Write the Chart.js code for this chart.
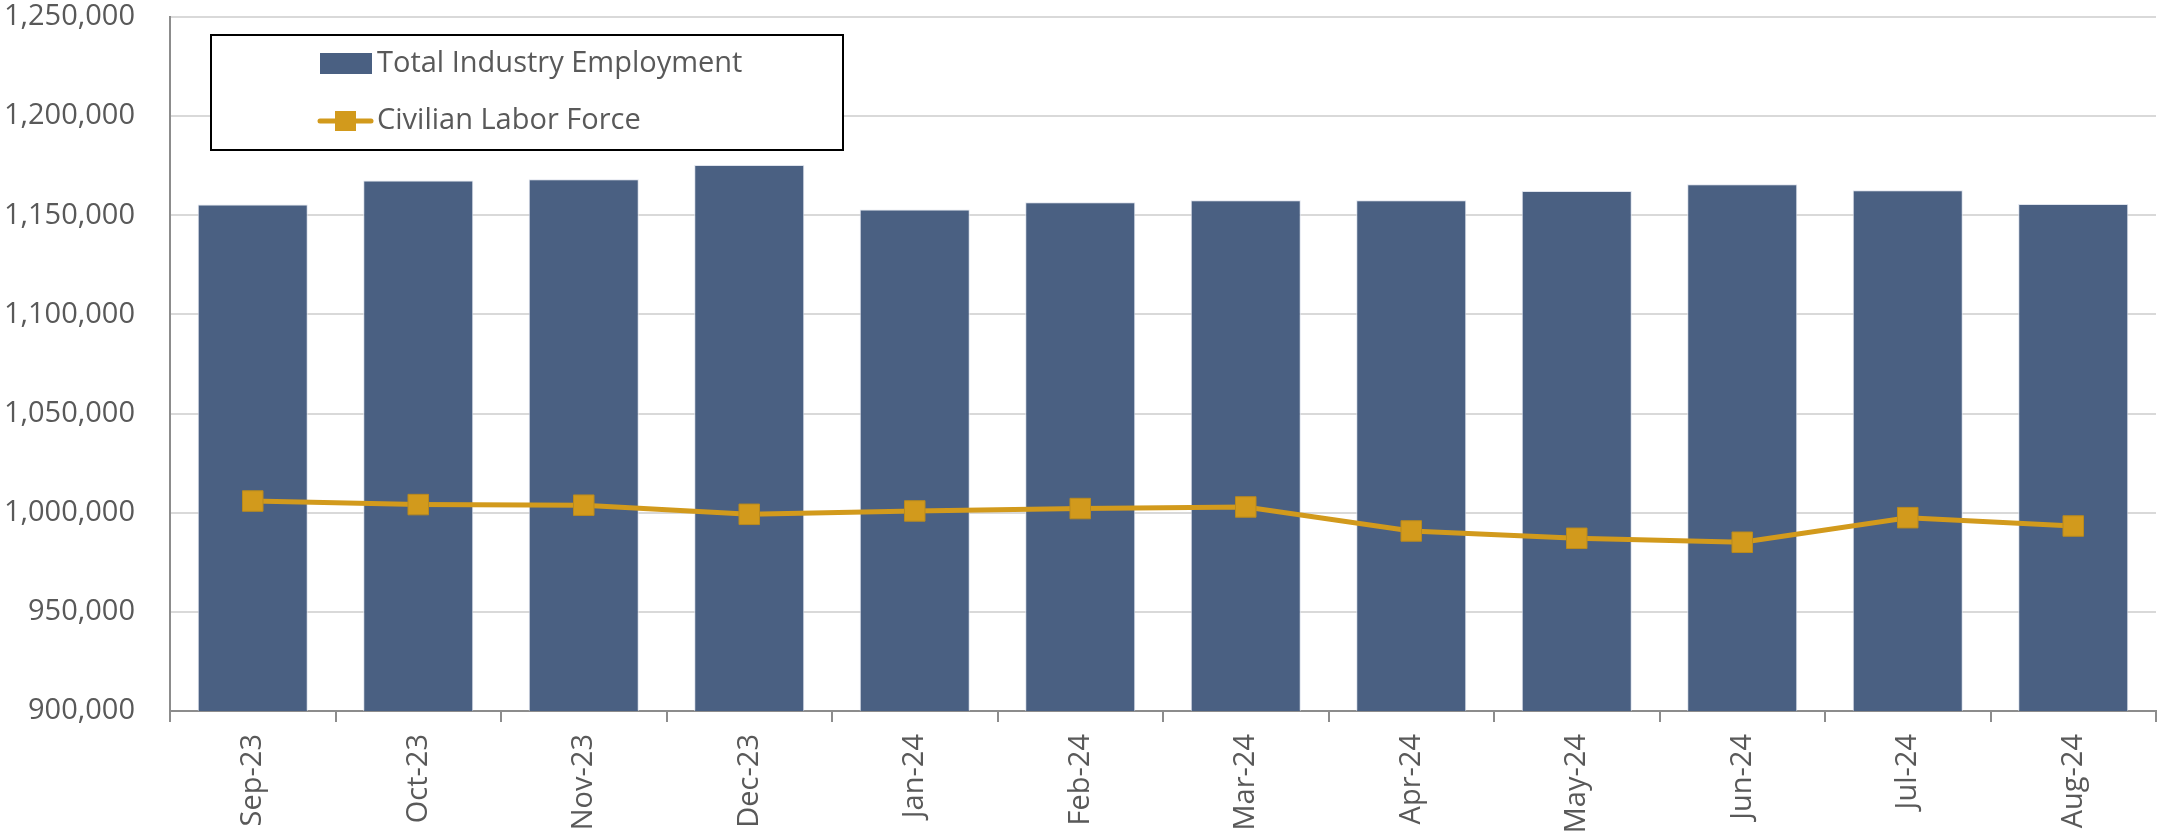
<!DOCTYPE html>
<html>
<head>
<meta charset="utf-8">
<script src="https://cdn.jsdelivr.net/npm/chart.js@4/dist/chart.umd.min.js"></script>
<style>
  html, body { margin: 0; padding: 0; background: #fff; }
  #wrap { width: 2157px; height: 840px; }
</style>
</head>
<body>
<div id="wrap"><canvas id="laborChart" width="2157" height="840"></canvas></div>
<script>
// data
const months = ['Sep-23', 'Oct-23', 'Nov-23', 'Dec-23', 'Jan-24', 'Feb-24',
                'Mar-24', 'Apr-24', 'May-24', 'Jun-24', 'Jul-24', 'Aug-24'];
const employment = [1155500, 1167500, 1168200, 1175400, 1152900, 1156600,
                    1157600, 1157600, 1162300, 1165600, 1162600, 1155700];
const laborForce = [1005900, 1004100, 1003800, 999200, 1000900, 1002100,
                    1002900, 990800, 987100, 985100, 997500, 993300];
const yMin = 900000;
const yMax = 1250000;
const yStep = 50000;

const barColor = '#4a6082';
const lineColor = '#d29a1c';
const textColor = '#595959';
const fontFamily = '"Open Sans", "Noto Sans", sans-serif';

// legend box drawn inside the plot, like the original
const boxLegend = {
  id: 'boxLegend',
  afterDraw(chart) {
    const ctx = chart.ctx;
    const bar = chart.data.datasets[0];
    const line = chart.data.datasets[1];
    ctx.save();
    ctx.fillStyle = '#fff';
    ctx.fillRect(211, 35, 632, 115);
    ctx.strokeStyle = '#000';
    ctx.lineWidth = 2;
    ctx.strokeRect(211, 35, 632, 115);

    ctx.font = '29px ' + fontFamily;
    ctx.textBaseline = 'middle';

    // bar item
    ctx.fillStyle = bar.backgroundColor;
    ctx.fillRect(320, 53, 52, 21);
    ctx.fillStyle = textColor;
    ctx.fillText(bar.label, 377, 64);

    // line item
    ctx.strokeStyle = line.borderColor;
    ctx.lineWidth = 5;
    ctx.lineCap = 'round';
    ctx.beginPath();
    ctx.moveTo(320, 121);
    ctx.lineTo(371, 121);
    ctx.stroke();
    ctx.fillStyle = line.pointBackgroundColor;
    ctx.fillRect(335, 111, 21, 20);
    ctx.fillStyle = textColor;
    ctx.fillText(line.label, 377, 121);
    ctx.restore();
  }
};

const ctx = document.getElementById('laborChart').getContext('2d');
new Chart(ctx, {
  type: 'bar',
  data: {
    labels: months,
    datasets: [
      {
        type: 'bar',
        label: 'Total Industry Employment',
        data: employment,
        backgroundColor: barColor,
        borderColor: 'rgba(220,225,235,0.9)',
        borderWidth: 1,
        barPercentage: 0.665,
        categoryPercentage: 1,
        order: 2
      },
      {
        type: 'line',
        label: 'Civilian Labor Force',
        data: laborForce,
        borderColor: lineColor,
        borderWidth: 5,
        pointStyle: 'rect',
        pointRadius: 14.5,
        pointBackgroundColor: lineColor,
        pointBorderColor: '#b98a1e',
        pointBorderWidth: 1,
        tension: 0,
        order: 1
      }
    ]
  },
  options: {
    responsive: false,
    animation: false,
    layout: { autoPadding: false, padding: { top: 17, right: 1, left: 0, bottom: 0 } },
    plugins: {
      legend: { display: false },
      tooltip: { enabled: false }
    },
    scales: {
      x: {
        offset: true,
        grid: {
          drawOnChartArea: false,
          drawTicks: true,
          tickLength: 11,
          color: '#8c8c8c',
          lineWidth: 2
        },
        border: { color: '#8c8c8c', width: 2 },
        ticks: {
          color: textColor,
          font: { family: fontFamily, size: 29 },
          minRotation: 90,
          maxRotation: 90,
          autoSkip: false,
          padding: 12
        },
        afterFit(scale) {
          scale.height = 129;
        }
      },
      y: {
        min: yMin,
        max: yMax,
        grid: { color: '#d9d9d9', lineWidth: 2, drawTicks: false },
        border: { color: '#8c8c8c', width: 2 },
        ticks: {
          stepSize: yStep,
          color: textColor,
          font: { family: fontFamily, size: 29 },
          padding: 35,
          callback: v => v.toLocaleString('en-US')
        },
        afterFit(scale) {
          scale.width = 170;
          scale.paddingTop = 0;
          scale.paddingBottom = 0;
        }
      }
    }
  },
  plugins: [boxLegend]
});
</script>
</body>
</html>
